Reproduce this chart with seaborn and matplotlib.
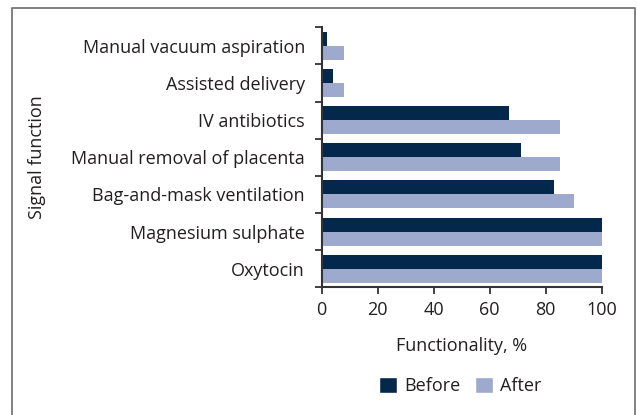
import pandas as pd
import numpy as np
import matplotlib
matplotlib.use("Agg")
import matplotlib.pyplot as plt
from matplotlib.lines import Line2D
from matplotlib.patches import Patch
import seaborn as sns

# data
functions = ["Manual vacuum aspiration", "Assisted delivery", "IV antibiotics",
             "Manual removal of placenta", "Bag-and-mask ventilation",
             "Magnesium sulphate", "Oxytocin"]
before = [2, 4, 67, 71, 83, 100, 100]
after = [8, 8, 85, 85, 90, 100, 100]
x_ticks = [0, 20, 40, 60, 80, 100]

df = pd.DataFrame({
    "function": functions * 2,
    "value": before + after,
    "period": ["Before"] * len(functions) + ["After"] * len(functions),
})

sns.set_style("white")
plt.rcParams['font.family'] = ['Open Sans', 'DejaVu Sans']
text_col = "#231f20"
colors = {"Before": "#04284b", "After": "#9eaacd"}
fs = 13

fig = plt.figure(figsize=(6.37, 4.15), dpi=100)
ax = fig.add_axes([0.505, 0.3077, 0.4396, 0.6265])

sns.barplot(data=df, y="function", x="value", hue="period", order=functions,
            palette=colors, orient="h", width=0.755, ax=ax, legend=False,
            saturation=1, linewidth=0)

ax.set_xlim(0, 100)
ax.set_ylim(len(functions) - 0.5, -0.5)
ax.set_xticks(x_ticks)
ax.set_xticklabels([str(t) for t in x_ticks], fontsize=fs, color=text_col)
ax.set_yticks(range(len(functions)))
ax.set_yticklabels(functions, fontsize=fs, color=text_col)
ax.set_yticks(np.arange(-0.5, len(functions)), minor=True)
ax.tick_params(axis="y", which="major", length=0, pad=12)
ax.tick_params(axis="y", which="minor", length=5, width=1.3, color="#333333", left=True)
ax.tick_params(axis="x", length=5, width=1.3, color="#333333", bottom=True, pad=5)

for s in ["top", "right"]:
    ax.spines[s].set_visible(False)
for s in ["left", "bottom"]:
    ax.spines[s].set_color("#333333")
    ax.spines[s].set_linewidth(1.5)

ax.set_xlabel("Functionality, %", fontsize=fs, color=text_col, labelpad=13)
ax.set_ylabel("")
fig.text(37 / 637, 1 - 157 / 415, "Signal function", rotation=90, fontsize=fs,
         color=text_col, ha="center", va="center")

handles = [Patch(facecolor=colors["Before"], label="Before"),
           Patch(facecolor=colors["After"], label="After")]
fig.legend(handles=handles, loc="center", bbox_to_anchor=(460 / 637, 1 - 386 / 415),
           ncol=2, frameon=False, fontsize=fs, handlelength=1.0, handleheight=1.0,
           handletextpad=0.4, columnspacing=0.8, labelcolor=text_col)

# open frame around the figure (left, top, right)
fig.add_artist(Line2D([11.5 / 637, 11.5 / 637, 634.5 / 637, 634.5 / 637],
                      [0, 1 - 8.5 / 415, 1 - 8.5 / 415, 0],
                      transform=fig.transFigure, color="#777777", lw=1.3))

fig.savefig("out.png", dpi=100)
